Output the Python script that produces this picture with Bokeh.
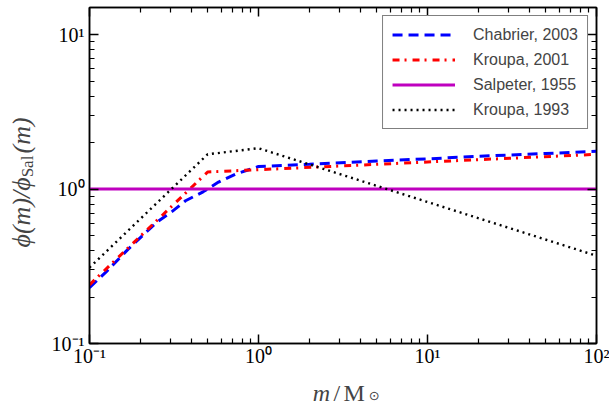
from math import pi
from bokeh.plotting import figure
from bokeh.layouts import row, column
from bokeh.models import Range1d, LogAxis, FixedTicker, Legend, LegendItem, Label
from bokeh.embed import file_html
from bokeh.resources import INLINE

# ---- data ----
chabrier_m = [0.1, 0.125, 0.17, 0.21, 0.25, 0.31, 0.37, 0.47, 0.58, 0.73, 1.0, 2.0, 5.0, 10.0, 20.0, 50.0, 100.0]
chabrier_r = [0.23, 0.29, 0.41, 0.51, 0.61, 0.72, 0.84, 0.96, 1.11, 1.25, 1.40, 1.45, 1.52, 1.57, 1.63, 1.70, 1.76]
kroupa01_m = [0.1, 0.5, 100.0]
kroupa01_r = [0.24, 1.29, 1.68]
salpeter_m = [0.1, 100.0]
salpeter_r = [1.0, 1.0]
kroupa93_m = [0.1, 0.5, 1.0, 100.0]
kroupa93_r = [0.31, 1.68, 1.84, 0.37]

series_names = ["Chabrier, 2003", "Kroupa, 2001", "Salpeter, 1955", "Kroupa, 1993"]

x_ticks = [0.1, 1, 10, 100]
x_tick_labels = ["10⁻¹", "10⁰", "10¹", "10²"]
y_ticks = [0.1, 1, 10]
y_tick_labels = ["10⁻¹", "10⁰", "10¹"]
x_minor = [k * 10.0 ** e for e in (-1, 0, 1) for k in range(2, 10)]
y_minor = [k * 10.0 ** e for e in (-1, 0) for k in range(2, 10)]

serif = "Liberation Serif"

# ---- main plot ----
p = figure(width=561, height=369, x_axis_type="log", y_axis_type="log",
           x_range=Range1d(0.1, 100), y_range=Range1d(0.1, 15),
           output_backend="svg", toolbar_location=None,
           min_border_left=41, min_border_right=13, min_border_top=7, min_border_bottom=24)
p.xgrid.visible = False
p.ygrid.visible = False
p.outline_line_color = "black"
p.outline_line_width = 1.5
p.background_fill_color = "white"
p.border_fill_color = "white"

def style_axis(ax, ticks, minor, labels):
    ax.ticker = FixedTicker(ticks=ticks, minor_ticks=minor)
    ax.major_tick_in = 9
    ax.major_tick_out = 0
    ax.minor_tick_in = 5
    ax.minor_tick_out = 0
    ax.axis_line_color = "black"
    ax.axis_line_width = 1.5
    ax.major_tick_line_color = "black"
    ax.major_tick_line_width = 1.5
    ax.minor_tick_line_color = "black"
    ax.minor_tick_line_width = 1.2
    if labels is None:
        ax.major_label_text_font_size = "1px"
        ax.major_label_text_alpha = 0.0
        ax.major_label_standoff = 0
    else:
        ax.major_label_overrides = {t: l for t, l in zip(ticks, labels)}
        ax.major_label_text_font = serif
        ax.major_label_text_font_size = "20px"
        ax.major_label_text_color = "black"

style_axis(p.xaxis[0], x_ticks, x_minor, x_tick_labels)
p.xaxis[0].major_label_standoff = 1
style_axis(p.yaxis[0], y_ticks, y_minor, y_tick_labels)
p.yaxis[0].major_label_standoff = 5

top_ax = LogAxis()
style_axis(top_ax, x_ticks, x_minor, None)
p.add_layout(top_ax, "above")
right_ax = LogAxis()
style_axis(right_ax, y_ticks, y_minor, None)
p.add_layout(right_ax, "right")

r1 = p.line(chabrier_m, chabrier_r, line_color="#0000FF", line_width=3, line_dash="10 6")
r2 = p.line(kroupa01_m, kroupa01_r, line_color="#FF0000", line_width=3, line_dash="7 5 2 6")
r3 = p.line(salpeter_m, salpeter_r, line_color="#BF00BF", line_width=3)
r4 = p.line(kroupa93_m, kroupa93_r, line_color="black", line_width=2.4, line_dash="2 4")

legend = Legend(items=[LegendItem(label=n, renderers=[r]) for n, r in zip(series_names, [r1, r2, r3, r4])],
                location="top_right", label_text_font="Liberation Sans", label_text_font_size="16px",
                glyph_width=63, glyph_height=19, label_height=19, spacing=6, padding=9, margin=8,
                label_standoff=18, border_line_color="black", border_line_width=1.2,
                background_fill_color="white", background_fill_alpha=1.0)
p.add_layout(legend)

# ---- y-axis label panel (pixel-unit ranges) ----
yfig = figure(width=48, height=401, x_range=Range1d(0, 48), y_range=Range1d(0, 401),
              output_backend="svg", toolbar_location=None, min_border=0,
              x_axis_location=None, y_axis_location=None)
yfig.grid.visible = False
yfig.outline_line_color = None
yfig.add_layout(Label(x=21, y=154, text="ϕ(m)/ϕ", angle=pi / 2,
                      text_font=serif, text_font_style="italic", text_font_size="26px",
                      text_align="left", text_baseline="middle"))
yfig.add_layout(Label(x=27, y=235, text="Sal", angle=pi / 2,
                      text_font=serif, text_font_size="17px",
                      text_align="center", text_baseline="middle"))
yfig.add_layout(Label(x=21, y=248, text="(m)", angle=pi / 2,
                      text_font=serif, text_font_style="italic", text_font_size="26px",
                      text_align="left", text_baseline="middle"))

# ---- x-axis label panel ----
xfig = figure(width=561, height=32, x_range=Range1d(0, 561), y_range=Range1d(0, 32),
              output_backend="svg", toolbar_location=None, min_border=0,
              x_axis_location=None, y_axis_location=None)
xfig.grid.visible = False
xfig.outline_line_color = None
xfig.add_layout(Label(x=247, y=9, text="m", text_font=serif, text_font_style="italic",
                      text_font_size="24px", text_align="left", text_baseline="alphabetic"))
xfig.add_layout(Label(x=270, y=9, text="/", text_font=serif,
                      text_font_size="24px", text_align="left", text_baseline="alphabetic"))
xfig.add_layout(Label(x=281, y=9, text="M", text_font=serif,
                      text_font_size="24px", text_align="left", text_baseline="alphabetic"))
xfig.add_layout(Label(x=309, y=6, text="⊙", text_font="DejaVu Sans",
                      text_font_size="13px", text_align="left", text_baseline="alphabetic"))

layout = row(yfig, column(p, xfig, spacing=0), spacing=0)
open("out.html", "w").write(file_html(layout, INLINE))
